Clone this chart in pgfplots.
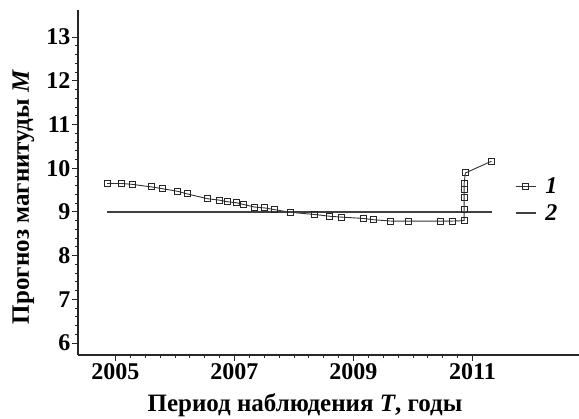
\documentclass[border=0pt]{standalone}
\usepackage{fontspec}
\setmainfont{Liberation Serif}
\usepackage{pgfplots}
\pgfplotsset{compat=1.18}

\begin{document}
\begin{tikzpicture}
\begin{axis}[
    at={(0,0)}, anchor=south west,
    scale only axis,
    width=501pt, height=345pt,
    xmin=2004.37, xmax=2012.79,
    ymin=5.725, ymax=13.62,
    axis x line*=bottom,
    axis y line*=left,
    axis line style={-, line width=1.3pt, black!85},
    xtick={2005,2007,2009,2011},
    ytick={6,7,8,9,10,11,12,13},
    minor x tick num=7,
    minor y tick num=4,
    tick align=outside,
    major tick length=6pt,
    minor tick length=3pt,
    every tick/.style={black!85, line width=0.9pt},
    /pgf/number format/assume math mode=true,
    /pgf/number format/1000 sep={},
    ticklabel style={font=\fontsize{24}{26}\selectfont\bfseries},
    xticklabel style={yshift=1pt},
    yticklabel style={xshift=2pt},
    xlabel={Период наблюдения \textit{T}, годы},
    ylabel={Прогноз магнитуды \textit{M}},
    label style={font=\fontsize{25}{28}\selectfont\bfseries},
    xlabel style={at={(axis description cs:0.453,-0.165)}, anchor=base},
    ylabel style={at={(axis description cs:-0.098,0.458)}, anchor=base, rotate=0},
    legend style={draw=none, fill=none, inner sep=0pt,
        at={(axis cs:2011.71,9.28)}, anchor=west,
        font=\fontsize{24}{26}\selectfont\bfseries\itshape,
        row sep=5pt, column sep=7pt},
    legend cell align=left,
    legend image code/.code={
        \draw[mark repeat=2, mark phase=2, #1] plot coordinates {(0pt,0pt) (10pt,0pt) (20pt,0pt)};
    },
    clip=false,
]

% 1: forecast of magnitude
\addplot[black!80, line width=0.9pt, mark=square,
    mark size=3pt, mark options={fill=white, draw=black!85, line width=1pt, solid}]
coordinates {
    (2004.86, 9.65) (2005.10, 9.65) (2005.28, 9.63) (2005.61, 9.57)
    (2005.79, 9.53) (2006.05, 9.47) (2006.21, 9.41) (2006.55, 9.30)
    (2006.74, 9.27) (2006.89, 9.23) (2007.03, 9.21) (2007.15, 9.17)
    (2007.34, 9.11) (2007.51, 9.09) (2007.68, 9.05) (2007.94, 8.99)
    (2008.35, 8.94) (2008.60, 8.90) (2008.80, 8.88) (2009.17, 8.85)
    (2009.34, 8.82) (2009.63, 8.79) (2009.93, 8.79) (2010.46, 8.79)
    (2010.66, 8.79) (2010.86, 8.80) (2010.86, 9.05) (2010.86, 9.32)
    (2010.86, 9.51) (2010.86, 9.66) (2010.88, 9.89) (2011.32, 10.16)
};
\addlegendentry{1}

% 2: level M = 9
\addplot[black!75, line width=1.4pt, no markers]
coordinates {(2004.86, 9.0) (2011.33, 9.0)};
\addlegendentry{2}

\end{axis}
\pgfresetboundingbox
\useasboundingbox (-78pt,-64pt) rectangle (501pt,355pt);
\end{tikzpicture}
\end{document}
